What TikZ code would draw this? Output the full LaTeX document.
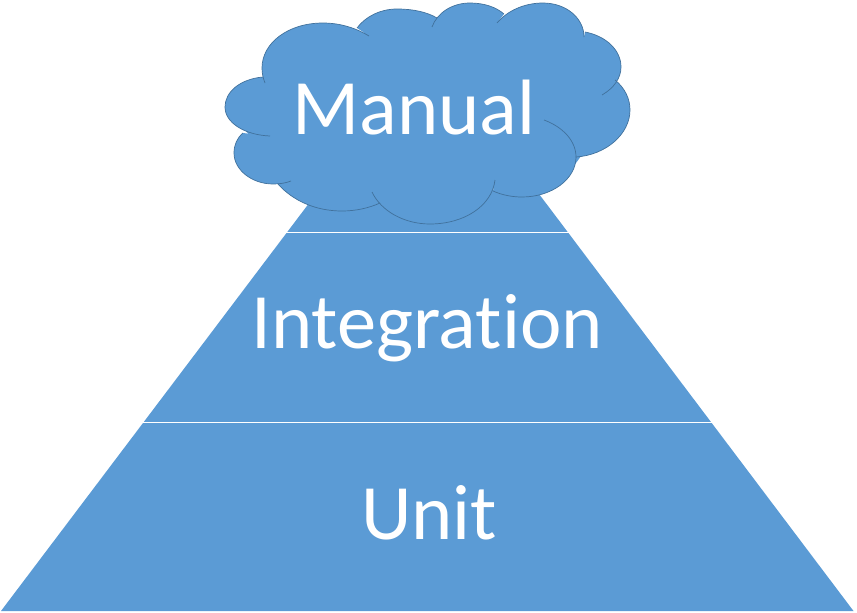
\documentclass[tikz,border=0pt]{standalone}
\usepackage{fontspec}
\setmainfont{Carlito}
\definecolor{pyr}{HTML}{5B9BD5}
\definecolor{edge}{HTML}{41719C}
\tikzset{
  layer/.style={fill=pyr,draw=none},
  divider/.style={draw=white,line width=1pt},
  lobe/.style={draw=edge,line width=0.7pt},
  label/.style={text=white,font=\fontsize{78.5}{80}\selectfont,anchor=base,inner sep=0pt}
}
\newcommand{\lobeA}{(263,77) .. controls (240,79) and (225,92) .. (225,107) .. controls (225,123) and (245,135) .. (270,136)}
\newcommand{\lobeB}{(243,133) .. controls (237,138) and (234,145) .. (234,153) .. controls (234,170) and (252,184) .. (273,184) .. controls (280,184) and (286,183) .. (291,181)}
\newcommand{\lobeC}{(278,184) .. controls (293,201) and (316,211) .. (342,211) .. controls (356,211) and (369,208) .. (380,203)}
\newcommand{\lobeD}{(372,192) .. controls (381,211) and (404,224) .. (430,224) .. controls (464,224) and (492,206) .. (495,180)}
\newcommand{\lobeEa}{(493,191) .. controls (502,195) and (512,197) .. (522,197) .. controls (552,197) and (576,179) .. (576,157)}
\newcommand{\lobeEb}{(576,157) .. controls (576,141) and (563,127) .. (544,120)}
\newcommand{\lobeF}{(576,157) .. controls (606,155) and (630,134) .. (630,110) .. controls (630,99) and (625,88) .. (615,80)}
\newcommand{\lobeG}{(602,95) .. controls (614,88) and (621,78) .. (621,67) .. controls (621,50) and (606,36) .. (585,32)}
\newcommand{\lobeH}{(584,37) .. controls (584,18) and (566,3) .. (543,3) .. controls (524,3) and (507,11) .. (497,23)}
\newcommand{\lobeI}{(504,14) .. controls (496,7) and (484,3) .. (470,3) .. controls (452,3) and (437,13) .. (432,27)}
\newcommand{\lobeJ}{(437,18) .. controls (427,12) and (413,9) .. (397,9) .. controls (380,9) and (365,17) .. (357,28)}
\newcommand{\lobeK}{(369,36) .. controls (356,28) and (340,23) .. (323,23) .. controls (288,23) and (262,43) .. (262,68) .. controls (262,73) and (263,78) .. (265,83)}
\begin{document}
\begin{tikzpicture}[x=1pt,y=-1pt]
\useasboundingbox (0,0) rectangle (857,613);
% pyramid
\path[layer] (319,190) -- (536,190) -- (853.5,611) -- (1,611) -- cycle;
\coordinate (d1l) at (286,232);
\coordinate (d1r) at (569,232);
\coordinate (d2l) at (141,422.5);
\coordinate (d2r) at (714,422.5);
\draw[divider] (d1l) -- (d1r);
\draw[divider] (d2l) -- (d2r);
% cloud fill
\fill[pyr] \lobeA -- \lobeB -- \lobeC -- \lobeD -- \lobeEa -- \lobeF -- \lobeG -- \lobeH -- \lobeI -- \lobeJ -- \lobeK -- cycle;
\fill[pyr] (270,60) -- (600,40) -- (600,130) -- (560,185) -- (300,195) -- (245,130) -- cycle;
% cloud outlines
\foreach \piece in {\lobeA,\lobeB,\lobeC,\lobeD,\lobeF,\lobeG,\lobeH,\lobeI,\lobeJ,\lobeK}{
  \draw[lobe] \piece;
}
\draw[lobe] \lobeEa;
\draw[lobe] \lobeEb;
% labels
\node[label] (manual) at (414,134) {Manual};
\node[label] (integration) at (427,348) {Integrat\kern0pt ion};
\node[label] (unit) at (429,539) {Unit};
\end{tikzpicture}
\end{document}
